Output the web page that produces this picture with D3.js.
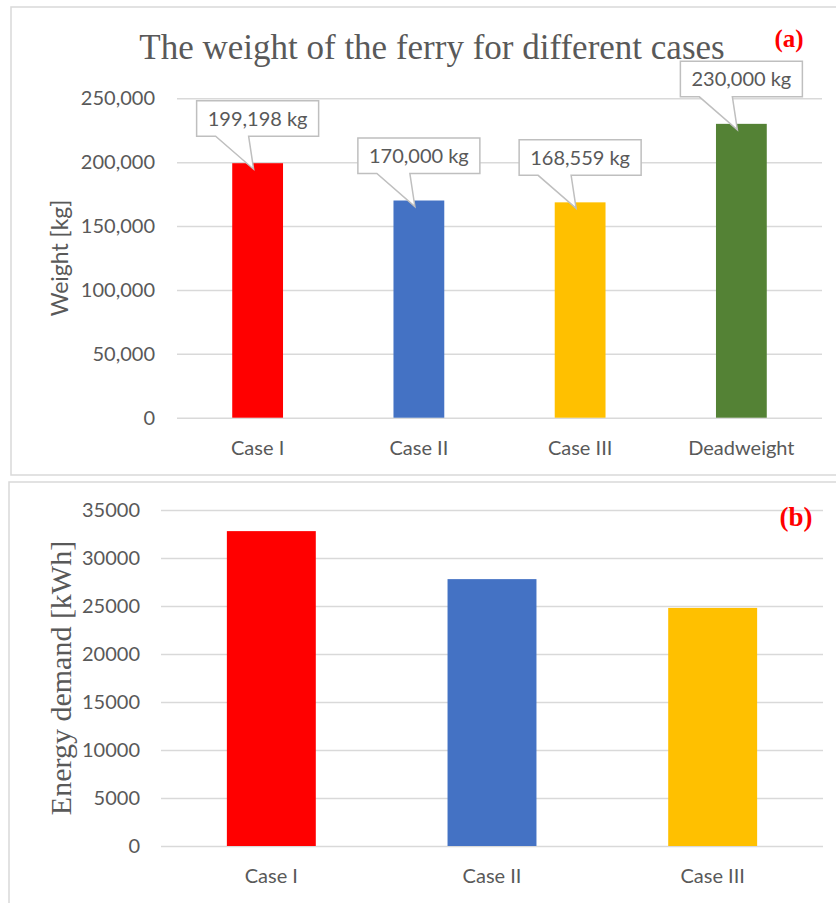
<!DOCTYPE html>
<html>
<head>
<meta charset="utf-8">
<script src="https://cdn.jsdelivr.net/npm/d3@7"></script>
<style>
  body { margin: 0; background: #fff; }
  svg { display: block; }
</style>
</head>
<body>
<svg id="chart" width="836" height="903"></svg>
<script>
// ---- data: ferry weight per case ----
const weightCategories = ["Case I", "Case II", "Case III", "Deadweight"];
const weightValues = [199198, 170000, 168559, 230000];
const weightLabels = ["199,198 kg", "170,000 kg", "168,559 kg", "230,000 kg"];
const weightTicks = [0, 50000, 100000, 150000, 200000, 250000];

// ---- data: energy demand per case ----
const energyCategories = ["Case I", "Case II", "Case III"];
const energyValues = [32800, 27800, 24800];
const energyTicks = [0, 5000, 10000, 15000, 20000, 25000, 30000, 35000];

const barColors = ["#FF0000", "#4472C4", "#FFC000", "#548235"];

const SANS = "Lato, 'Open Sans', sans-serif";
const SERIF = "'Liberation Serif', 'Times New Roman', serif";
const TEXT = "#595959";
const GRID = "#d9d9d9";

const svg = d3.select("#chart");

// panel frames
svg.append("rect").attr("x", 11).attr("y", 7).attr("width", 900).attr("height", 468)
  .attr("fill", "none").attr("stroke", GRID).attr("stroke-width", 1.5);
svg.append("rect").attr("x", 9).attr("y", 482).attr("width", 900).attr("height", 500)
  .attr("fill", "none").attr("stroke", GRID).attr("stroke-width", 1.5);

function styleAxisText(sel, size) {
  sel.selectAll("text")
    .attr("font-family", SANS)
    .attr("font-size", size)
    .attr("fill", TEXT);
}

// ================= panel (a): weight =================
const xA = d3.scaleBand().domain(weightCategories).range([177, 822])
  .paddingInner(0.685).paddingOuter(0.3425);
const yA = d3.scaleLinear().domain([0, 250000]).range([417.7, 98.3]);

const gridA = svg.append("g").attr("transform", "translate(177,0)")
  .call(d3.axisLeft(yA).tickValues(weightTicks)
    .tickSizeInner(-(822 - 177)).tickSizeOuter(0).tickPadding(22)
    .tickFormat(d3.format(",")));
gridA.select(".domain").remove();
gridA.selectAll("line").attr("stroke", GRID).attr("stroke-width", 1.5);
styleAxisText(gridA, 20);

svg.append("g").selectAll("rect").data(weightValues).join("rect")
  .attr("x", (d, i) => xA(weightCategories[i]))
  .attr("y", d => yA(d))
  .attr("width", xA.bandwidth())
  .attr("height", d => yA(0) - yA(d))
  .attr("fill", (d, i) => barColors[i]);

const catA = svg.append("g").attr("transform", `translate(0,${yA(0)})`)
  .call(d3.axisBottom(xA).tickSize(0).tickPadding(23));
catA.select(".domain").remove();
styleAxisText(catA, 20);

svg.append("text")
  .attr("transform", `translate(68,${(yA(0) + yA(250000)) / 2}) rotate(-90)`)
  .attr("text-anchor", "middle")
  .attr("font-family", SANS).attr("font-size", 23).attr("fill", TEXT)
  .text("Weight [kg]");

svg.append("text").attr("x", 432).attr("y", 59).attr("text-anchor", "middle")
  .attr("font-family", SERIF).attr("font-size", 35).attr("fill", TEXT)
  .text("The weight of the ferry for different cases");

svg.append("text").attr("x", 789).attr("y", 47).attr("text-anchor", "middle")
  .attr("font-family", SERIF).attr("font-weight", "bold").attr("font-size", 25)
  .attr("fill", "#FF0000").text("(a)");

// value callouts above each bar
const boxW = 122, boxH = 35.5, boxGap = 27;
const callouts = svg.append("g");
weightValues.forEach((v, i) => {
  const cx = xA(weightCategories[i]) + xA.bandwidth() / 2;
  const top = yA(v);
  const bottom = top - boxGap;
  const upper = bottom - boxH;
  const left = cx - boxW / 2, right = cx + boxW / 2;
  const p = d3.path();
  p.moveTo(left, upper);
  p.lineTo(right, upper);
  p.lineTo(right, bottom);
  p.lineTo(cx - 9, bottom);
  p.lineTo(cx - 4, top + 6);
  p.lineTo(cx - 42, bottom);
  p.lineTo(left, bottom);
  p.closePath();
  callouts.append("path").attr("d", p.toString())
    .attr("fill", "#fff").attr("stroke", "#bfbfbf").attr("stroke-width", 1.5);
  callouts.append("text").attr("x", cx).attr("y", upper + 25)
    .attr("text-anchor", "middle")
    .attr("font-family", SANS).attr("font-size", 20).attr("fill", TEXT)
    .text(weightLabels[i]);
});

// ================= panel (b): energy demand =================
const xB = d3.scaleBand().domain(energyCategories).range([161, 823])
  .paddingInner(0.597).paddingOuter(0.2985);
const yB = d3.scaleLinear().domain([0, 35000]).range([846, 510]);

const gridB = svg.append("g").attr("transform", "translate(161,0)")
  .call(d3.axisLeft(yB).tickValues(energyTicks)
    .tickSizeInner(-(823 - 161)).tickSizeOuter(0).tickPadding(21)
    .tickFormat(d3.format("d")));
gridB.select(".domain").remove();
gridB.selectAll("line").attr("stroke", GRID).attr("stroke-width", 1.5);
styleAxisText(gridB, 20);

svg.append("g").selectAll("rect").data(energyValues).join("rect")
  .attr("x", (d, i) => xB(energyCategories[i]))
  .attr("y", d => yB(d))
  .attr("width", xB.bandwidth())
  .attr("height", d => yB(0) - yB(d))
  .attr("fill", (d, i) => barColors[i]);

const catB = svg.append("g").attr("transform", `translate(0,${yB(0)})`)
  .call(d3.axisBottom(xB).tickSize(0).tickPadding(23));
catB.select(".domain").remove();
styleAxisText(catB, 20);

svg.append("text")
  .attr("transform", `translate(71,${(yB(0) + yB(35000)) / 2}) rotate(-90)`)
  .attr("text-anchor", "middle")
  .attr("font-family", SERIF).attr("font-size", 30).attr("fill", TEXT)
  .text("Energy demand [kWh]");

svg.append("text").attr("x", 796).attr("y", 526).attr("text-anchor", "middle")
  .attr("font-family", SERIF).attr("font-weight", "bold").attr("font-size", 27)
  .attr("fill", "#FF0000").text("(b)");
</script>
</body>
</html>
